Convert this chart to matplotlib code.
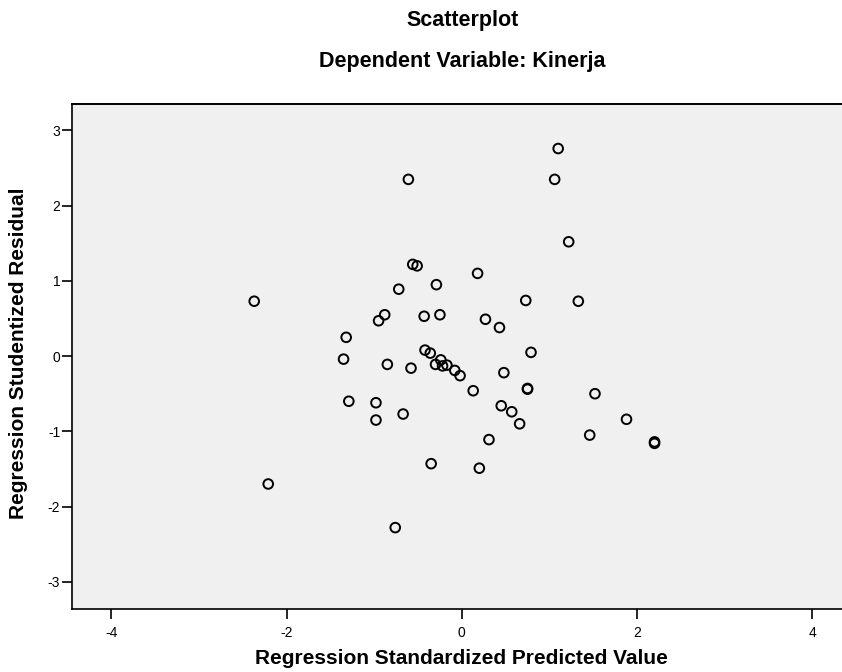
import numpy as np
from matplotlib import pyplot as plt

plt.rcParams['font.family'] = ['Liberation Sans', 'DejaVu Sans']
plt.rcParams['axes.unicode_minus'] = False

# Regression standardized predicted value / studentized residual
pred = [-2.37, -2.21, -1.32, -1.35, -1.29, -0.98, -0.98, -0.95, -0.88, -0.85,
        -0.72, -0.67, -0.61, -0.76, -0.58, -0.56, -0.51, -0.43, -0.42, -0.36,
        -0.35, -0.30, -0.29, -0.25, -0.24, -0.22, -0.17, -0.08, -0.02, 0.13,
        0.18, 0.20, 0.27, 0.31, 0.43, 0.45, 0.48, 0.57, 0.66, 0.75,
        0.75, 0.79, 0.73, 1.06, 1.10, 1.22, 1.33, 1.52, 1.46, 1.88,
        2.20, 2.20]
resid = [0.73, -1.70, 0.25, -0.04, -0.60, -0.62, -0.85, 0.47, 0.55, -0.11,
         0.89, -0.77, 2.35, -2.28, -0.16, 1.22, 1.20, 0.53, 0.08, 0.04,
         -1.43, -0.11, 0.95, 0.55, -0.05, -0.13, -0.12, -0.19, -0.26, -0.46,
         1.10, -1.49, 0.49, -1.11, 0.38, -0.66, -0.22, -0.74, -0.90, -0.44,
         -0.43, 0.05, 0.74, 2.35, 2.76, 1.52, 0.73, -0.50, -1.05, -0.84,
         -1.14, -1.16]

xticks = [-4, -2, 0, 2, 4]
yticks = [-3, -2, -1, 0, 1, 2, 3]

fig = plt.figure(figsize=(8.42, 6.72), dpi=100)
ax = fig.add_axes([0.0855, 0.094, 0.9145, 0.751])
ax.set_facecolor('#f0f0f0')

ax.scatter(pred, resid, s=48, facecolors='none', edgecolors='black', linewidths=1.4)

ax.set_xlim(-4.45, 4.34)
ax.set_ylim(-3.36, 3.35)
ax.set_xticks(xticks)
ax.set_yticks(yticks)
ax.tick_params(direction='out', length=7, width=1.2, labelsize=10, colors='black')
ax.tick_params(axis='x', pad=5.5)
ax.tick_params(axis='y', pad=1.5)
for side in ['top', 'right']:
    ax.spines[side].set_visible(False)
ax.spines['left'].set_linewidth(1.2)
ax.spines['bottom'].set_linewidth(1.2)

# top border line like the reference
ax.axhline(3.35, color='black', lw=1.4, clip_on=False)

ax.set_xlabel('Regression Standardized Predicted Value', fontsize=15, fontweight='bold', va='center')
ax.xaxis.set_label_coords(0.506, -0.099)
ax.set_ylabel('Regression Studentized Residual', fontsize=15, fontweight='bold', va='center')
ax.yaxis.set_label_coords(-0.070, 0.507)

fig.text(0.549, 0.970, 'Scatterplot', ha='center', va='center', fontsize=15.5, fontweight='bold')
fig.text(0.549, 0.908, 'Dependent Variable: Kinerja', ha='center', va='center', fontsize=15.5, fontweight='bold')

fig.savefig('out.png', dpi=100)
